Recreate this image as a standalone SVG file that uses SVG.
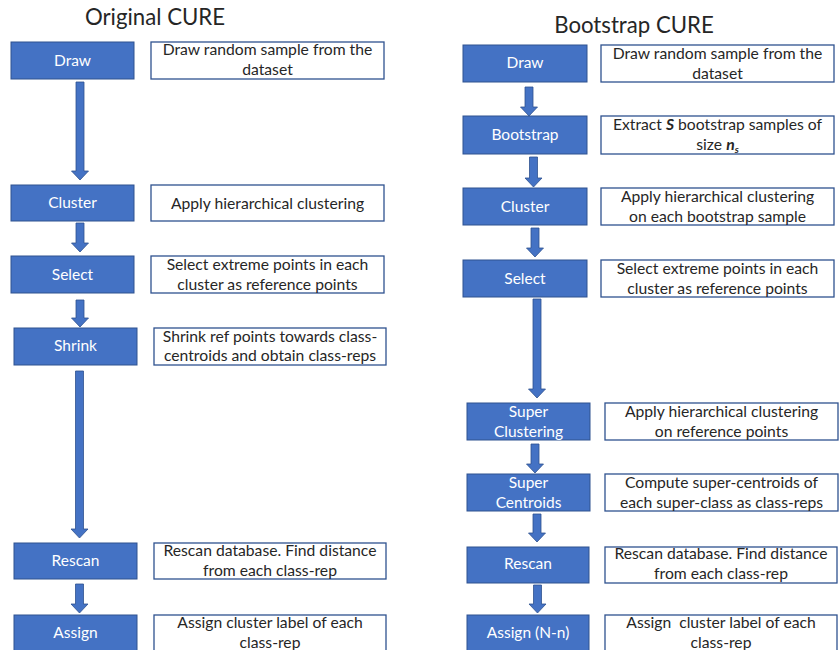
<svg xmlns="http://www.w3.org/2000/svg" width="840" height="650" viewBox="0 0 840 650">
<style>
.step{fill:#4472C4;stroke:#2F528F;stroke-width:1}
.desc{fill:#fff;stroke:#2F528F;stroke-width:1.3}
.lbl{font-family:Lato,"Liberation Sans",sans-serif;font-size:15.5px;fill:#fff;text-anchor:middle}
.txt{font-family:Lato,"Liberation Sans",sans-serif;font-size:15.7px;fill:#262626;text-anchor:middle}
.title{font-family:Lato,"Liberation Sans",sans-serif;font-size:22.2px;fill:#262626;text-anchor:middle}
.arr{fill:#4472C4;stroke:#2F528F;stroke-width:0.8}
</style>
<rect width="840" height="650" fill="#fff"/>
<text class="title" x="155" y="25">Original CURE</text>
<text class="title" x="634" y="33">Bootstrap CURE</text>

<g id="connectors">
<path class="arr" d="M76,82 H84 V171 H88.5 L80,180 L71.5,171 H76 Z"/>
<path class="arr" d="M76,223 H84 V243 H88.5 L80,252 L71.5,243 H76 Z"/>
<path class="arr" d="M76,300 H84 V318 H88.5 L80,327 L71.5,318 H76 Z"/>
<path class="arr" d="M75.5,371 H83.5 V529 H88 L79.5,538 L71,529 H75.5 Z"/>
<path class="arr" d="M75.5,584 H83.5 V604 H88 L79.5,613 L71,604 H75.5 Z"/>

<path class="arr" d="M525,87 H533 V107 H537.5 L529,116 L520.5,107 H525 Z"/>
<path class="arr" d="M529.5,157 H537.5 V178 H542 L533.5,187 L525,178 H529.5 Z"/>
<path class="arr" d="M531,228 H539 V248 H543.5 L535,257 L526.5,248 H531 Z"/>
<path class="arr" d="M533,299 H541 V389 H545.5 L537,398 L528.5,389 H533 Z"/>
<path class="arr" d="M531,444 H539 V464 H543.5 L535,473 L526.5,464 H531 Z"/>
<path class="arr" d="M533,514 H541 V533 H545.5 L537,542 L528.5,533 H533 Z"/>
<path class="arr" d="M533.5,585 H541.5 V604 H546 L537.5,613 L529,604 H533.5 Z"/>
</g>

<g id="o-draw"><rect class="step" x="11" y="42" width="123" height="37"/><text class="lbl" x="72.5" y="66">Draw</text></g>
<g id="o-draw-desc"><rect class="desc" x="151" y="42" width="233" height="37"/><text class="txt" x="267.5" y="55">Draw random sample from the</text><text class="txt" x="267.5" y="75">dataset</text></g>

<g id="o-cluster"><rect class="step" x="11" y="185" width="123" height="36"/><text class="lbl" x="72.5" y="208">Cluster</text></g>
<g id="o-cluster-desc"><rect class="desc" x="151" y="185" width="233" height="36"/><text class="txt" x="267.5" y="209">Apply hierarchical clustering</text></g>

<g id="o-select"><rect class="step" x="11" y="256" width="123" height="37"/><text class="lbl" x="72.5" y="280">Select</text></g>
<g id="o-select-desc"><rect class="desc" x="151" y="256" width="233" height="37"/><text class="txt" x="267.5" y="270">Select extreme points in each</text><text class="txt" x="267.5" y="290">cluster as reference points</text></g>

<g id="o-shrink"><rect class="step" x="14" y="328" width="123" height="37"/><text class="lbl" x="75.5" y="351">Shrink</text></g>
<g id="o-shrink-desc"><rect class="desc" x="154" y="328" width="232" height="37"/><text class="txt" x="270" y="342">Shrink ref points towards class-</text><text class="txt" x="270" y="361">centroids and obtain class-reps</text></g>

<g id="o-rescan"><rect class="step" x="14" y="543" width="123" height="36"/><text class="lbl" x="75.5" y="566">Rescan</text></g>
<g id="o-rescan-desc"><rect class="desc" x="154" y="543" width="232" height="36"/><text class="txt" x="270" y="556">Rescan database. Find distance</text><text class="txt" x="270" y="576">from each class-rep</text></g>

<g id="o-assign"><rect class="step" x="14" y="615" width="123" height="40"/><text class="lbl" x="75.5" y="638">Assign</text></g>
<g id="o-assign-desc"><rect class="desc" x="154" y="615" width="232" height="40"/><text class="txt" x="270" y="628">Assign cluster label of each</text><text class="txt" x="270" y="648">class-rep</text></g>

<g id="b-draw"><rect class="step" x="463" y="45" width="124" height="37"/><text class="lbl" x="525" y="68">Draw</text></g>
<g id="b-draw-desc"><rect class="desc" x="601" y="45" width="233" height="37"/><text class="txt" x="717.5" y="59">Draw random sample from the</text><text class="txt" x="717.5" y="79">dataset</text></g>

<g id="b-bootstrap"><rect class="step" x="463" y="116" width="124" height="38"/><text class="lbl" x="525" y="140">Bootstrap</text></g>
<g id="b-bootstrap-desc"><rect class="desc" x="601" y="116" width="233" height="38"/><text class="txt" x="717.5" y="130">Extract <tspan font-weight="bold" font-style="italic">S</tspan> bootstrap samples of</text><text class="txt" x="717.5" y="150">size <tspan font-weight="bold" font-style="italic">n<tspan font-size="10px" dy="3">s</tspan></tspan></text></g>

<g id="b-cluster"><rect class="step" x="463" y="188" width="124" height="37"/><text class="lbl" x="525" y="212">Cluster</text></g>
<g id="b-cluster-desc"><rect class="desc" x="601" y="188" width="233" height="37"/><text class="txt" x="717.5" y="202">Apply hierarchical clustering</text><text class="txt" x="717.5" y="222">on each bootstrap sample</text></g>

<g id="b-select"><rect class="step" x="463" y="260" width="124" height="37"/><text class="lbl" x="525" y="284">Select</text></g>
<g id="b-select-desc"><rect class="desc" x="601" y="260" width="233" height="37"/><text class="txt" x="717.5" y="274">Select extreme points in each</text><text class="txt" x="717.5" y="294">cluster as reference points</text></g>

<g id="b-superclustering"><rect class="step" x="467" y="403" width="123" height="37"/><text class="lbl" x="528.5" y="417">Super</text><text class="lbl" x="528.5" y="437">Clustering</text></g>
<g id="b-superclustering-desc"><rect class="desc" x="605" y="403" width="233" height="37"/><text class="txt" x="721.5" y="417">Apply hierarchical clustering</text><text class="txt" x="721.5" y="437">on reference points</text></g>

<g id="b-supercentroids"><rect class="step" x="467" y="474" width="123" height="37"/><text class="lbl" x="528.5" y="488">Super</text><text class="lbl" x="528.5" y="508">Centroids</text></g>
<g id="b-supercentroids-desc"><rect class="desc" x="605" y="474" width="233" height="37"/><text class="txt" x="721.5" y="488">Compute super-centroids of</text><text class="txt" x="721.5" y="508">each super-class as class-reps</text></g>

<g id="b-rescan"><rect class="step" x="467" y="547" width="122" height="36"/><text class="lbl" x="528" y="569">Rescan</text></g>
<g id="b-rescan-desc"><rect class="desc" x="605" y="547" width="232" height="36"/><text class="txt" x="721" y="559">Rescan database. Find distance</text><text class="txt" x="721" y="579">from each class-rep</text></g>

<g id="b-assign"><rect class="step" x="467" y="615" width="122" height="40"/><text class="lbl" x="528" y="638">Assign (N-n)</text></g>
<g id="b-assign-desc"><rect class="desc" x="605" y="615" width="232" height="40"/><text class="txt" x="721" y="628" xml:space="preserve">Assign  cluster label of each</text><text class="txt" x="721" y="648">class-rep</text></g>
</svg>
